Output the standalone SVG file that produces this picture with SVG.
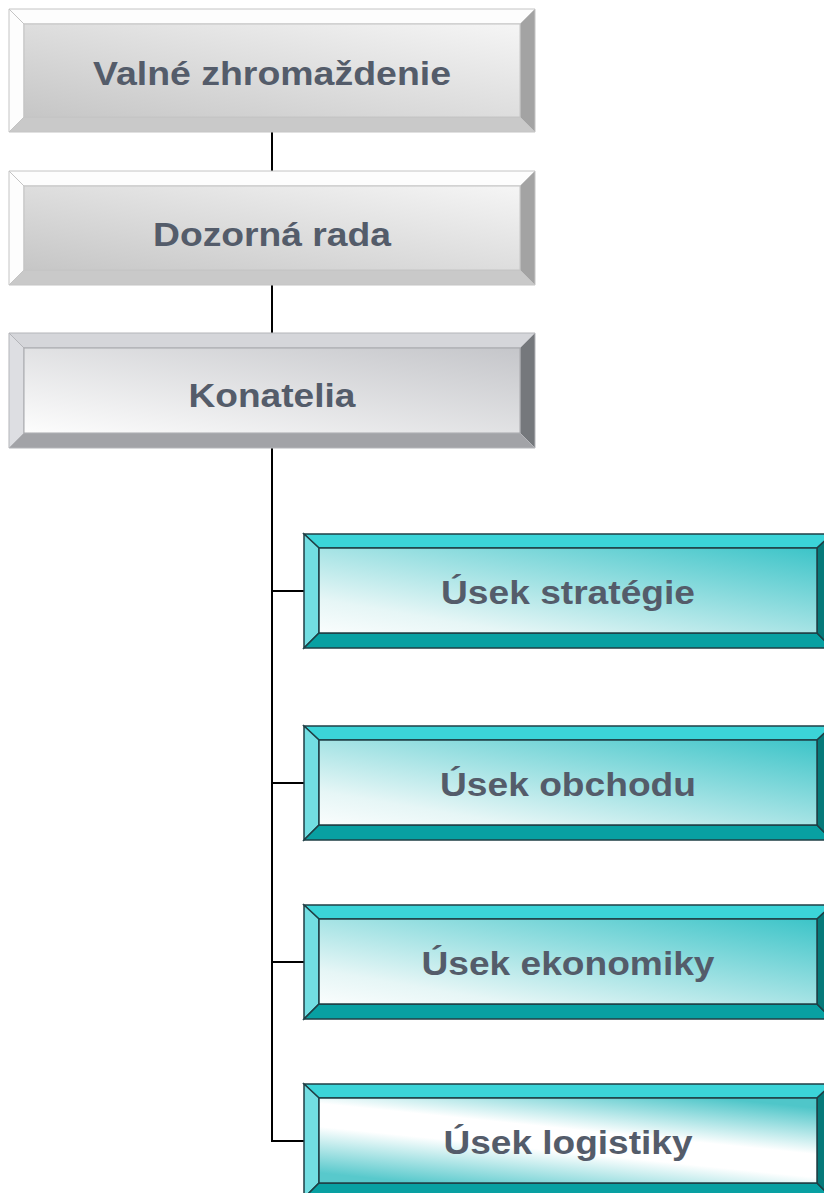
<svg xmlns="http://www.w3.org/2000/svg" width="824" height="1193" viewBox="0 0 824 1193">
<defs>
<linearGradient id="gGray" x1="0" y1="1" x2="1" y2="0">
<stop offset="0" stop-color="#c6c6c6"/><stop offset="1" stop-color="#f5f5f5"/>
</linearGradient>
<linearGradient id="gKon" x1="0" y1="1" x2="1" y2="0">
<stop offset="0" stop-color="#fdfdfd"/><stop offset="1" stop-color="#c5c6ca"/>
</linearGradient>
<linearGradient id="gTeal" x1="0" y1="1" x2="1" y2="0">
<stop offset="0" stop-color="#fafdfd"/><stop offset="0.2" stop-color="#e6f6f6"/><stop offset="1" stop-color="#3cc4c8"/>
</linearGradient>
<linearGradient id="gTeal2" x1="0.2" y1="1" x2="0.8" y2="0">
<stop offset="0" stop-color="#58c9cc"/><stop offset="0.4" stop-color="#ffffff"/><stop offset="0.6" stop-color="#ffffff"/><stop offset="1" stop-color="#4fc6c9"/>
</linearGradient>
</defs>
<style>
.t{font-family:"Liberation Sans",Arial,sans-serif;font-weight:bold;font-size:33px;fill:#545c6a;text-anchor:middle}
.gw{fill:#fdfdfd;stroke:#c4c4c4;stroke-width:1}
.gb{fill:#c9c9c9;stroke:#c4c4c4;stroke-width:1}
.gr{fill:#a3a3a3;stroke:#c4c4c4;stroke-width:1}
.gf{fill:url(#gGray);stroke:#c4c4c4;stroke-width:1}
.kt{fill:#d5d6da;stroke:#b4b5b9;stroke-width:1}
.kl{fill:#dddee2;stroke:#b4b5b9;stroke-width:1}
.kb{fill:#a2a3a7;stroke:#b4b5b9;stroke-width:1}
.kr{fill:#75787c;stroke:#b4b5b9;stroke-width:1}
.kf{fill:url(#gKon);stroke:#a6a7ab;stroke-width:1}
.tt{fill:#3bd4d8;stroke:#1f3f45;stroke-width:1.5}
.tl{fill:#72dee2;stroke:#1f3f45;stroke-width:1.5}
.tb{fill:#08a0a2;stroke:#1f3f45;stroke-width:1.5}
.tr{fill:#067a7a;stroke:#1f3f45;stroke-width:1.5}
.tf{fill:url(#gTeal);stroke:#1f3f45;stroke-width:1.5}
.tf2{fill:url(#gTeal2);stroke:#1f3f45;stroke-width:1.5}
.c{stroke:#000;stroke-width:2;fill:none}
</style>
<g id="connectors">
<line class="c" x1="272" y1="132" x2="272" y2="171"/>
<line class="c" x1="272" y1="285" x2="272" y2="333"/>
<polyline class="c" points="272,448 272,1141 304,1141"/>
<line class="c" x1="272" y1="591" x2="304" y2="591"/>
<line class="c" x1="272" y1="783" x2="304" y2="783"/>
<line class="c" x1="272" y1="962" x2="304" y2="962"/>
</g>
<g id="n1">
<polygon class="gw" points="9,9 535,9 520,24 24,24"/>
<polygon class="gw" points="9,9 24,24 24,117 9,132"/>
<polygon class="gb" points="9,132 24,117 520,117 535,132"/>
<polygon class="gr" points="535,9 535,132 520,117 520,24"/>
<rect class="gf" x="24" y="24" width="496" height="93"/>
<text class="t" x="272" y="85" textLength="358" lengthAdjust="spacingAndGlyphs">Valné zhromaždenie</text>
</g>
<g id="n2">
<polygon class="gw" points="9,171 535,171 520,186 24,186"/>
<polygon class="gw" points="9,171 24,186 24,270 9,285"/>
<polygon class="gb" points="9,285 24,270 520,270 535,285"/>
<polygon class="gr" points="535,171 535,285 520,270 520,186"/>
<rect class="gf" x="24" y="186" width="496" height="84"/>
<text class="t" x="272" y="246" textLength="238" lengthAdjust="spacingAndGlyphs">Dozorná rada</text>
</g>
<g id="n3">
<polygon class="kt" points="9,333 535,333 520,348 24,348"/>
<polygon class="kl" points="9,333 24,348 24,433 9,448"/>
<polygon class="kb" points="9,448 24,433 520,433 535,448"/>
<polygon class="kr" points="535,333 535,448 520,433 520,348"/>
<rect class="kf" x="24" y="348" width="496" height="85"/>
<text class="t" x="272" y="407" textLength="167" lengthAdjust="spacingAndGlyphs">Konatelia</text>
</g>
<g id="n4">
<polygon class="tt" points="304,534 832,534 817,548 319,548"/>
<polygon class="tl" points="304,534 319,548 319,633 304,648"/>
<polygon class="tb" points="304,648 319,633 817,633 832,648"/>
<polygon class="tr" points="832,534 832,648 817,633 817,548"/>
<rect class="tf" x="319" y="548" width="498" height="85"/>
<text class="t" x="568" y="604" textLength="254" lengthAdjust="spacingAndGlyphs">Úsek stratégie</text>
</g>
<g id="n5">
<polygon class="tt" points="304,726 832,726 817,740 319,740"/>
<polygon class="tl" points="304,726 319,740 319,825 304,840"/>
<polygon class="tb" points="304,840 319,825 817,825 832,840"/>
<polygon class="tr" points="832,726 832,840 817,825 817,740"/>
<rect class="tf" x="319" y="740" width="498" height="85"/>
<text class="t" x="568" y="796" textLength="256" lengthAdjust="spacingAndGlyphs">Úsek obchodu</text>
</g>
<g id="n6">
<polygon class="tt" points="304,905 832,905 817,919 319,919"/>
<polygon class="tl" points="304,905 319,919 319,1004 304,1019"/>
<polygon class="tb" points="304,1019 319,1004 817,1004 832,1019"/>
<polygon class="tr" points="832,905 832,1019 817,1004 817,919"/>
<rect class="tf" x="319" y="919" width="498" height="85"/>
<text class="t" x="568" y="975" textLength="293" lengthAdjust="spacingAndGlyphs">Úsek ekonomiky</text>
</g>
<g id="n7">
<polygon class="tt" points="304,1084 832,1084 817,1098 319,1098"/>
<polygon class="tl" points="304,1084 319,1098 319,1183 304,1198"/>
<polygon class="tb" points="304,1198 319,1183 817,1183 832,1198"/>
<polygon class="tr" points="832,1084 832,1198 817,1183 817,1098"/>
<rect class="tf2" x="319" y="1098" width="498" height="85"/>
<text class="t" x="568" y="1154" textLength="249" lengthAdjust="spacingAndGlyphs">Úsek logistiky</text>
</g>
</svg>
